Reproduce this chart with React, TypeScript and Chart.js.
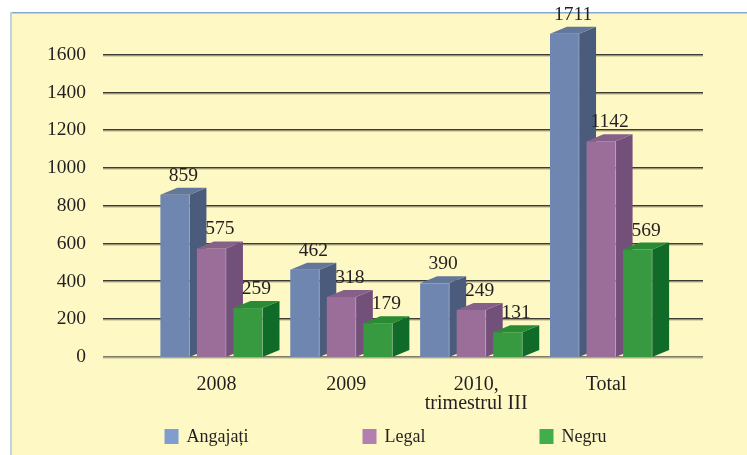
import { useEffect, useRef } from 'react';
import { Chart, registerables } from 'chart.js';

Chart.register(...registerables);

const categories: string[][] = [['2008'], ['2009'], ['2010,', 'trimestrul III'], ['Total']];
const seriesNames = ['Angajați', 'Legal', 'Negru'];
const angajati = [859, 462, 390, 1711];
const legal = [575, 318, 249, 1142];
const negru = [259, 179, 131, 569];
const yTicks = [0, 200, 400, 600, 800, 1000, 1200, 1400, 1600];

const frontColors = ['#6f87b0', '#9a6e99', '#379a40'];
const sideColors = ['#4b5b7c', '#73507a', '#0f6b27'];
const topColors = ['#627799', '#85618a', '#2a8b35'];
const legendColors = ['#7f9ecf', '#b17fb0', '#40ae4a'];

const TEXT = '#231f20';
const SERIF = '"Liberation Serif", "Times New Roman", serif';
const DX = 17;
const DY = 7;

const bgPlugin = {
  id: 'bgPanel',
  beforeDraw(chart: any) {
    const ctx = chart.ctx;
    const W = chart.width;
    const H = chart.height;
    ctx.save();
    ctx.fillStyle = '#ffffff';
    ctx.fillRect(0, 0, W, H);
    ctx.fillStyle = '#fef8c5';
    ctx.fillRect(10, 12, W - 10, H - 12);
    ctx.fillStyle = '#86a8d6';
    ctx.fillRect(10, 12, W - 10, 1.5);
    ctx.fillStyle = '#c3d2df';
    ctx.fillRect(10, 12, 2, H - 12);
    const ys = chart.scales.y;
    for (const t of yTicks) {
      const py = Math.round(ys.getPixelForValue(t));
      ctx.fillStyle = t === 0 ? '#7d7a66' : '#3d3b33';
      ctx.fillRect(103, py - 1, 600, 1.5);
      ctx.fillStyle = 'rgba(140,136,100,0.6)';
      ctx.fillRect(103, py + 0.5, 600, 1);
    }
    ctx.restore();
  },
};

const bars3dPlugin = {
  id: 'bars3d',
  beforeDatasetsDraw(chart: any) {
    const ctx = chart.ctx;
    ctx.save();
    const n = chart.data.labels.length;
    const nd = chart.data.datasets.length;
    for (let i = 0; i < n; i++) {
      for (let d = 0; d < nd; d++) {
        const el = chart.getDatasetMeta(d).data[i];
        const { x, y, base, width } = el.getProps(['x', 'y', 'base', 'width'], true);
        const l = x - width / 2;
        const r = x + width / 2;
        ctx.fillStyle = frontColors[d];
        ctx.fillRect(l, y, width, base - y);
        ctx.fillStyle = sideColors[d];
        ctx.beginPath();
        ctx.moveTo(r, y);
        ctx.lineTo(r + DX, y - DY);
        ctx.lineTo(r + DX, base - DY);
        ctx.lineTo(r, base);
        ctx.closePath();
        ctx.fill();
        ctx.fillStyle = topColors[d];
        ctx.beginPath();
        ctx.moveTo(l, y);
        ctx.lineTo(l + DX, y - DY);
        ctx.lineTo(r + DX, y - DY);
        ctx.lineTo(r, y);
        ctx.closePath();
        ctx.fill();
        ctx.strokeStyle = 'rgba(255,255,255,0.25)';
        ctx.lineWidth = 1;
        ctx.beginPath();
        ctx.moveTo(r, y);
        ctx.lineTo(r, base);
        ctx.stroke();
      }
    }
    ctx.fillStyle = TEXT;
    ctx.font = `19.5px ${SERIF}`;
    ctx.textAlign = 'center';
    ctx.textBaseline = 'alphabetic';
    for (let d = 0; d < nd; d++) {
      const meta = chart.getDatasetMeta(d);
      meta.data.forEach((el: any, i: number) => {
        const { x, y } = el.getProps(['x', 'y'], true);
        ctx.fillText(String(chart.data.datasets[d].data[i]), x + DX / 2, y - DY - 7);
      });
    }
    ctx.restore();
    return false;
  },
  afterDraw(chart: any) {
    const ctx = chart.ctx;
    ctx.save();
    ctx.font = `18px ${SERIF}`;
    ctx.textBaseline = 'middle';
    ctx.textAlign = 'left';
    const box = 14;
    const gapText = 8;
    const gap = 114;
    const widths = chart.data.datasets.map((ds: any) => box + gapText + ctx.measureText(ds.label).width);
    const total = widths.reduce((a: number, b: number) => a + b, 0) + gap * (widths.length - 1);
    let x = 385.5 - total / 2;
    chart.data.datasets.forEach((ds: any, d: number) => {
      ctx.fillStyle = legendColors[d];
      ctx.fillRect(x, 429, box, 15);
      ctx.fillStyle = TEXT;
      ctx.fillText(ds.label, x + box + gapText, 437);
      x += widths[d] + gap;
    });
    ctx.restore();
  },
};

export default function App() {
  const ref = useRef<HTMLCanvasElement | null>(null);

  useEffect(() => {
    if (!ref.current) return;
    const chart = new Chart(ref.current, {
      type: 'bar',
      data: {
        labels: categories,
        datasets: [
          { label: seriesNames[0], data: angajati, backgroundColor: legendColors[0] },
          { label: seriesNames[1], data: legal, backgroundColor: legendColors[1] },
          { label: seriesNames[2], data: negru, backgroundColor: legendColors[2] },
        ],
      },
      options: {
        responsive: false,
        animation: false,
        events: [],
        datasets: {
          bar: { categoryPercentage: 0.844, barPercentage: 0.795 },
        },
        layout: { padding: { top: 17, right: 81, left: 0, bottom: 0 } },
        plugins: {
          legend: { display: false },
          tooltip: { enabled: false },
          title: { display: false },
        },
        scales: {
          x: {
            grid: { display: false, drawTicks: false },
            border: { display: false },
            ticks: {
              color: TEXT,
              font: { family: SERIF, size: 20, lineHeight: 0.95 },
              padding: 18,
              labelOffset: 5,
              maxRotation: 0,
              autoSkip: false,
            },
            afterFit: (s: any) => {
              s.height = 98;
              s.paddingLeft = 0;
              s.paddingRight = 0;
            },
          },
          y: {
            min: 0,
            max: 1800,
            grid: { display: false, drawTicks: false },
            border: { display: false },
            ticks: {
              stepSize: 200,
              color: TEXT,
              font: { family: SERIF, size: 19.5 },
              padding: 60.5,
              callback: (v: any) => (yTicks.includes(Number(v)) ? String(v) : ''),
            },
            afterFit: (s: any) => {
              s.width = 146.5;
              s.paddingTop = 0;
              s.paddingBottom = 0;
            },
          },
        },
      },
      plugins: [bgPlugin, bars3dPlugin],
    });
    return () => chart.destroy();
  }, []);

  return (
    <div style={{ position: 'fixed', left: 0, top: 0, width: 747, height: 455 }}>
      <canvas ref={ref} width={747} height={455} style={{ display: 'block' }} />
    </div>
  );
}
